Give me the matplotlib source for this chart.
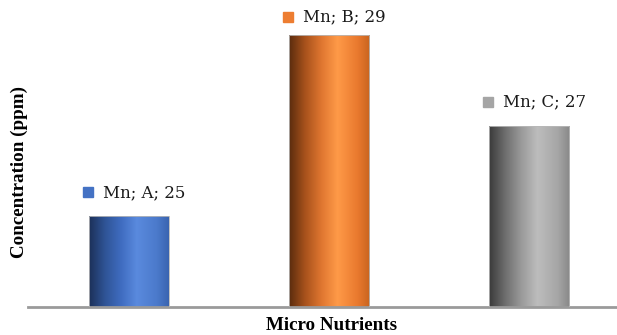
import numpy as np
import matplotlib
matplotlib.use("Agg")
import matplotlib.pyplot as plt
from matplotlib.colors import LinearSegmentedColormap
from matplotlib.transforms import offset_copy

categories = ["A", "B", "C"]
nutrient = "Mn"
values = [25, 29, 27]
x_label = "Micro Nutrients"
y_label = "Concentration (ppm)"

gradients = [
    ["#1c3058", "#2f5496", "#3f6cc0", "#5a8ade", "#4b7acb", "#3a64b0"],
    ["#5a2c0e", "#a8521c", "#df7630", "#ff9a48", "#e9792e", "#c8641f"],
    ["#3a3a3a", "#6e6e6e", "#9a9a9a", "#bdbdbd", "#a6a6a6", "#888888"],
]
square_colors = ["#4472c4", "#ed7d31", "#a5a5a5"]
label_dy = [24, 18, 24]

fig = plt.figure(figsize=(6.17, 3.35), dpi=100)
ax = fig.add_axes([28 / 617, 28 / 335, 589 / 617, 306 / 335])
x = np.arange(len(categories))
bars = ax.bar(x, values, width=0.4, color="none", edgecolor="#b8b8b8", linewidth=0.6, zorder=3)
ax.set_ylim(23, 29.75)
ax.set_xlim(-0.505, 2.44)

grad = np.linspace(0, 1, 256).reshape(1, -1)
for b, stops in zip(bars, gradients):
    cmap = LinearSegmentedColormap.from_list("g", list(zip([0, 0.2, 0.4, 0.6, 0.85, 1.0], stops)))
    x0, y0 = b.get_x(), 23
    im = ax.imshow(grad, cmap=cmap, aspect="auto",
                   extent=[x0, x0 + b.get_width(), y0, b.get_height()], zorder=2)
    im.set_clip_path(b)

for xi, v, cat, sc, dy in zip(x, values, categories, square_colors, label_dy):
    tr_sq = offset_copy(ax.transData, fig=fig, x=-41.5 * 72 / 100, y=dy * 72 / 100, units="points")
    ax.plot([xi], [v], marker="s", markersize=7.5, color=sc, transform=tr_sq, clip_on=False, zorder=4)
    ax.annotate(f"{nutrient}; {cat}; {v}", xy=(xi, v), xytext=(-26 * 0.72, dy * 0.72),
                textcoords="offset points", ha="left", va="center",
                fontsize=12, family="DejaVu Serif", color="#1a1a1a")

for s in ["top", "right", "left"]:
    ax.spines[s].set_visible(False)
ax.spines["bottom"].set_color("#9a9a9a")
ax.spines["bottom"].set_linewidth(2)
ax.set_xticks([])
ax.set_yticks([])
ax.set_ylim(23, 29.75)

fig.text(332 / 617, 1 - 326 / 335, x_label, ha="center", va="center",
         fontsize=13.7, fontweight="bold", family="Liberation Serif")
fig.text(19 / 617, 1 - 171.5 / 335, y_label, ha="center", va="center", rotation=90,
         fontsize=13.7, fontweight="bold", family="Liberation Serif")

fig.savefig("out.png", dpi=100)
